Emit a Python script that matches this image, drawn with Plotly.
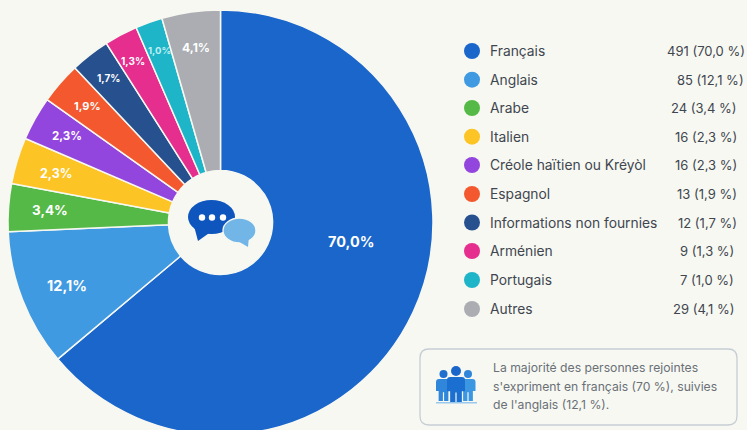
import plotly.graph_objects as go

# ---- data ----
languages = ["Français", "Anglais", "Arabe", "Italien", "Créole haïtien ou Kréyòl",
             "Espagnol", "Informations non fournies", "Arménien", "Portugais", "Autres"]
counts = [491, 85, 24, 16, 16, 13, 12, 9, 7, 29]
shares = ["70,0", "12,1", "3,4", "2,3", "2,3", "1,9", "1,7", "1,3", "1,0", "4,1"]
# The reference's slices are not proportional to its printed shares: these are
# the slice sizes as actually drawn, measured in degrees from the picture.
drawn_sizes = [230, 37.5, 13.1, 12.7, 12, 11.4, 10.8, 9.1, 7.4, 16]
colors = ["#1A66CB", "#3F9AE2", "#55B947", "#FDC425", "#9346DD",
          "#F4582E", "#27508F", "#E52E8E", "#1FB5C8", "#ABADB2"]
note_lines = ["La majorité des personnes rejointes",
              "s'expriment en français (70 %), suivies",
              "de l'anglais (12,1 %)."]

# ---- layout (canvas pixels) ----
W, H = 747, 435
BG = "#F7F8F1"
FONT = "Inter"
row_y = [51, 79.7, 108, 136.7, 165, 194, 222.5, 251, 280, 309]
value_right = [747, 746, 739, 739, 739, 739, 739, 736, 736, 736]
label_pos = [(351, 241, 14.5), (67, 285, 14.5), (50, 210, 13.5), (56, 173, 12.5), (67, 136, 11.5),
             (87, 106, 11), (108, 78, 10), (133, 61, 10), (159, 50, 9.5), (196, 47, 12)]

fig = go.Figure()
fig.add_trace(go.Pie(
    labels=languages, values=drawn_sizes, sort=False, direction="clockwise", rotation=0,
    hole=0.245, marker=dict(colors=colors, line=dict(color=BG, width=1.5)),
    textinfo="none", showlegend=False,
    domain=dict(x=[8 / W, 433 / W], y=[0, 425 / H]),
))
fig.add_trace(go.Scatter(
    x=[472] * len(languages), y=row_y, mode="markers", showlegend=False,
    marker=dict(size=16, color=colors), hoverinfo="skip",
))

ann = []
for share, (x, y, s), lang in zip(shares, label_pos, languages):
    col = "#BFEFF3" if lang == "Portugais" else "white"
    ann.append(dict(x=x, y=y, text=f"<b>{share}%</b>", showarrow=False, xanchor="center", yanchor="middle",
                    font=dict(family=FONT, size=s, color=col)))
for lang, c, sh, y, xr in zip(languages, counts, shares, row_y, value_right):
    ann.append(dict(x=488, y=y, text=lang, showarrow=False, xanchor="left", yanchor="middle",
                    font=dict(family=FONT, size=13.8, color="#3F4650")))
    ann.append(dict(x=xr, y=y, text=f"{c} ({sh} %)", showarrow=False, xanchor="right", yanchor="middle",
                    font=dict(family=FONT, size=13, color="#3F4650")))
for line, y in zip(note_lines, [367, 386, 404]):
    ann.append(dict(x=491, y=y, text=line, showarrow=False, xanchor="left", yanchor="middle",
                    font=dict(family=FONT, size=12.2, color="#6A7078")))


def rounded(x0, y0, x1, y1, r):
    return (f"M{x0+r},{y0} L{x1-r},{y0} Q{x1},{y0} {x1},{y0+r} L{x1},{y1-r} Q{x1},{y1} {x1-r},{y1} "
            f"L{x0+r},{y1} Q{x0},{y1} {x0},{y1-r} L{x0},{y0+r} Q{x0},{y0} {x0+r},{y0} Z")


def person(cx, top, hw, h, fill):
    return dict(type="path", xref="x", yref="y", line_width=0, fillcolor=fill, path=(
        f"M{cx-hw},{top+3} Q{cx-hw},{top} {cx-hw+3},{top} L{cx+hw-3},{top} Q{cx+hw},{top} {cx+hw},{top+3} "
        f"L{cx+hw},{top+h*0.55} L{cx+hw*0.65},{top+h*0.55} L{cx+hw*0.65},{top+h} L{cx+0.6},{top+h} "
        f"L{cx+0.6},{top+h*0.6} L{cx-0.6},{top+h*0.6} L{cx-0.6},{top+h} L{cx-hw*0.65},{top+h} "
        f"L{cx-hw*0.65},{top+h*0.55} L{cx-hw},{top+h*0.55} Z"))


def circle(cx, cy, r, fill):
    return dict(type="circle", xref="x", yref="y", x0=cx - r, x1=cx + r, y0=cy - r, y1=cy + r,
                fillcolor=fill, line_width=0)


shapes = [
    # note box
    dict(type="path", xref="x", yref="y", path=rounded(420, 349, 737, 425, 9),
         fillcolor=BG, line=dict(color="#C6CDD5", width=1.3)),
    # chat icon: dark bubble
    dict(type="circle", xref="x", yref="y", x0=188, x1=235, y0=200, y1=234, fillcolor="#0F55BE", line_width=0),
    dict(type="path", xref="x", yref="y", path="M194,226 L198,241 L212,231 Z", fillcolor="#0F55BE", line_width=0),
    circle(202, 217.5, 3.2, "white"), circle(212, 217.5, 3.2, "white"), circle(223, 217.5, 3.2, "white"),
    # chat icon: light bubble
    dict(type="circle", xref="x", yref="y", x0=223, x1=256, y0=218, y1=243, fillcolor="#72B6E8",
         line=dict(color=BG, width=1.3)),
    dict(type="path", xref="x", yref="y", path="M236,240 L248,247 L249,236 Z", fillcolor="#72B6E8", line_width=0),
    # people icon
    circle(443.5, 374, 4, "#1F6FCF"), person(443.5, 379, 7.5, 22, "#2F86DA"),
    circle(468, 374, 4, "#2F86DA"), person(468, 379, 7.5, 22, "#3C97E2"),
    circle(456, 371, 5, "#1A66CB"), person(456, 377, 9, 26, "#1A6FD0"),
    dict(type="rect", xref="x", yref="y", x0=436, x1=477, y0=402, y1=403.5, fillcolor="#9CC8EE", line_width=0),
]

fig.update_layout(
    width=W, height=H, margin=dict(l=0, r=0, t=0, b=0), autosize=False,
    paper_bgcolor=BG, plot_bgcolor=BG, showlegend=False,
    xaxis=dict(range=[0, W], visible=False, domain=[0, 1], fixedrange=True),
    yaxis=dict(range=[H, 0], visible=False, domain=[0, 1], fixedrange=True),
    annotations=ann, shapes=shapes,
)
fig.write_html("out.html", config=dict(displayModeBar=False),
               post_script="document.body.style.margin='0';document.body.style.background='%s';"
                           "document.documentElement.style.overflow='hidden';document.body.style.overflow='hidden';" % BG)
